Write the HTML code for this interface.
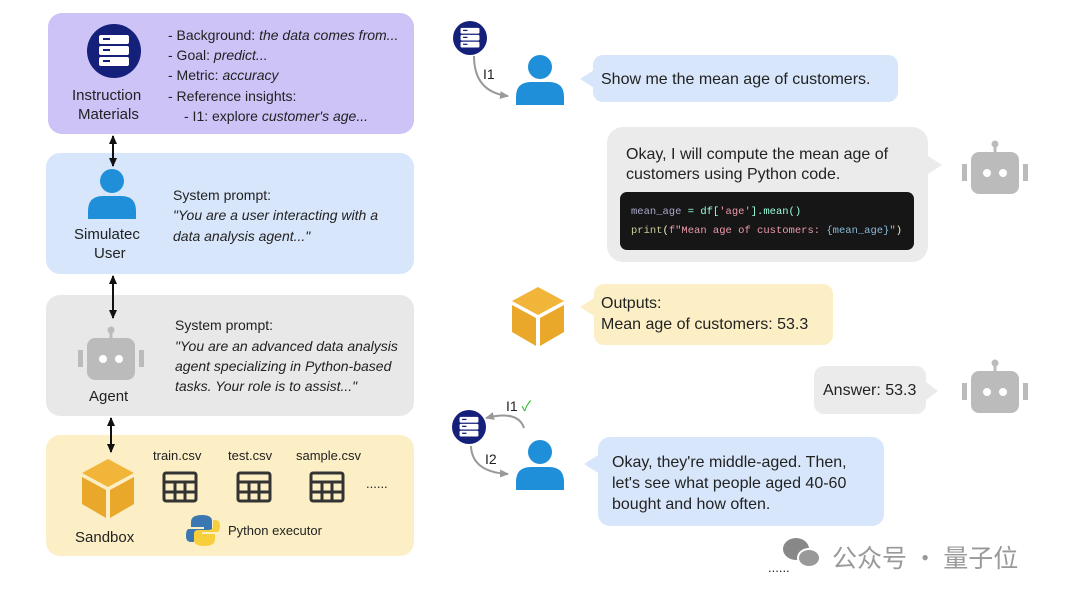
<!DOCTYPE html>
<html><head><meta charset="utf-8"><style>
body{margin:0;width:1080px;height:602px;background:#fff;position:relative;overflow:hidden;font-family:"Comic Sans MS","Liberation Sans","Noto Sans CJK SC",sans-serif;color:#222}
.a{position:absolute}
.box{position:absolute;border-radius:14px}
.t{position:absolute;font-size:14px;white-space:nowrap;line-height:20px}
i{font-style:italic}
.b{position:absolute;border-radius:10px}
.tail{position:absolute;width:0;height:0;border-top:9px solid transparent;border-bottom:9px solid transparent}
</style></head><body>
<div class="box" style="left:48px;top:13px;width:366px;height:121px;background:#cdc3f7"></div>
<div class="box" style="left:46px;top:153px;width:368px;height:121px;background:#d8e6fb"></div>
<div class="box" style="left:46px;top:295px;width:368px;height:121px;background:#e8e8e8"></div>
<div class="box" style="left:46px;top:435px;width:368px;height:121px;background:#fcefc6"></div>

<svg class="a" style="left:0;top:0" width="1080" height="602">
<defs>
<marker id="ah" markerUnits="userSpaceOnUse" markerWidth="10" markerHeight="10" refX="8" refY="4" orient="auto-start-reverse"><path d="M0,0 L9,4 L0,8 z" fill="#111"/></marker>
<marker id="gh" markerUnits="userSpaceOnUse" markerWidth="10" markerHeight="10" refX="8" refY="4" orient="auto"><path d="M0,0 L9,4 L0,8 z" fill="#999"/></marker>
<g id="inst"><circle r="27" fill="#14207a"/><rect x="-15" y="-16" width="30" height="9" rx="2" fill="#fff"/><rect x="-15" y="-5" width="30" height="9" rx="2" fill="#fff"/><rect x="-15" y="6" width="30" height="9" rx="2" fill="#fff"/><rect x="-11" y="-13" width="7" height="2" fill="#14207a"/><rect x="-11" y="-2" width="7" height="2" fill="#14207a"/><rect x="-11" y="9" width="7" height="2" fill="#14207a"/></g>
<g id="user"><circle cx="0" cy="-13" r="12" fill="#1e8fd8"/><path d="M-24,25 L-24,17 Q-24,2 -9,2 L9,2 Q24,2 24,17 L24,25 z" fill="#1e8fd8"/></g>
<g id="bot"><circle cx="0" cy="-27" r="3.5" fill="#bbb"/><rect x="-1.5" y="-26" width="3" height="8" fill="#bbb"/><rect x="-24" y="-19" width="48" height="42" rx="8" fill="#bbb"/><rect x="-33" y="-7" width="5" height="17" fill="#bbb"/><rect x="28" y="-7" width="5" height="17" fill="#bbb"/><circle cx="-8" cy="2" r="4" fill="#fff"/><circle cx="8" cy="2" r="4" fill="#fff"/></g>
<g id="cube"><path d="M0,-29 L26,-15 L0,-1 L-26,-15 z" fill="#f1b53a"/><path d="M-26,-11 L-2,2 L-2,30 L-26,16 z" fill="#e9a82a"/><path d="M26,-11 L2,2 L2,30 L26,16 z" fill="#e9a82a"/></g>
<g id="tbl" fill="none" stroke="#333" stroke-width="3"><rect x="-16" y="-14" width="32" height="28" rx="2"/><line x1="-16" y1="-5" x2="16" y2="-5"/><line x1="-16" y1="5" x2="16" y2="5"/><line x1="-5" y1="-5" x2="-5" y2="14"/><line x1="5" y1="-5" x2="5" y2="14"/></g>
</defs>
<line x1="113" y1="136" x2="113" y2="166" stroke="#111" stroke-width="2" marker-end="url(#ah)" marker-start="url(#ah)"/>
<line x1="113" y1="276" x2="113" y2="318" stroke="#111" stroke-width="2" marker-end="url(#ah)" marker-start="url(#ah)"/>
<line x1="111" y1="372" x2="111" y2="452" stroke="#111" stroke-width="2" marker-end="url(#ah)" marker-start="url(#ah)" opacity="0"/>
<line x1="111" y1="418" x2="111" y2="452" stroke="#111" stroke-width="2" marker-end="url(#ah)" marker-start="url(#ah)"/>
<use href="#inst" x="114" y="51"/>
<use href="#user" x="112" y="194"/>
<use href="#bot" x="111" y="357"/>
<use href="#cube" x="108" y="488"/>
<use href="#tbl" x="180" y="487"/><use href="#tbl" x="254" y="487"/><use href="#tbl" x="327" y="487"/>
<g transform="translate(203,530)"><path d="M-1,-15 Q-12,-15 -12,-8 L-12,-3 L1,-3 L1,-1 L-14,-1 Q-17,-1 -17,6 Q-17,12 -12,12 L-9,12 L-9,6 Q-9,2 -4,2 L6,2 Q9,2 9,-1 L9,-9 Q9,-15 -1,-15z" fill="#3b77b0"/><path d="M1,16 Q12,16 12,9 L12,4 L-1,4 L-1,2 L14,2 Q17,2 17,-4 Q17,-10 12,-10 L10,-10 L10,-4 Q10,0 5,0 L-5,0 Q-9,0 -9,4 L-9,10 Q-9,16 1,16z" fill="#f7cf3d"/></g>

<use href="#inst" x="0" y="0" transform="translate(470,38) scale(0.63)"/>
<path d="M474,56 Q474,92 508,96" fill="none" stroke="#999" stroke-width="2" marker-end="url(#gh)"/>
<use href="#user" x="540" y="80"/>
<use href="#bot" x="995" y="171"/>
<use href="#cube" x="538" y="316"/>
<use href="#bot" x="995" y="390"/>
<use href="#inst" x="0" y="0" transform="translate(469,427) scale(0.63)"/>
<path d="M524,428 Q518,410 486,418" fill="none" stroke="#999" stroke-width="2" marker-end="url(#gh)"/>
<path d="M471,446 Q472,472 508,474" fill="none" stroke="#999" stroke-width="2" marker-end="url(#gh)"/>
<use href="#user" x="540" y="465"/>
<g transform="translate(800,553)"><ellipse cx="-4" cy="-4" rx="13" ry="11" fill="#888"/><ellipse cx="9" cy="5" rx="11" ry="9" fill="#999" stroke="#fff" stroke-width="2"/></g>
</svg>

<div class="t" style="left:168px;top:25px">- Background: <i>the data comes from...</i></div>
<div class="t" style="left:168px;top:45px">- Goal: <i>predict...</i></div>
<div class="t" style="left:168px;top:65px">- Metric: <i>accuracy</i></div>
<div class="t" style="left:168px;top:86px">- Reference insights:</div>
<div class="t" style="left:184px;top:106px">- I1: explore <i>customer's age...</i></div>
<div class="t" style="left:72px;top:86px;font-size:15px">Instruction</div>
<div class="t" style="left:78px;top:105px;font-size:15px">Materials</div>
<div class="t" style="left:173px;top:185px">System prompt:</div>
<div class="t" style="left:173px;top:205px"><i>"You are a user interacting with a</i></div>
<div class="t" style="left:173px;top:226px"><i>data analysis agent..."</i></div>
<div class="t" style="left:74px;top:225px;font-size:15px">Simulatec</div>
<div class="t" style="left:94px;top:244px;font-size:15px">User</div>
<div class="t" style="left:175px;top:315px">System prompt:</div>
<div class="t" style="left:175px;top:336px"><i>"You are an advanced data analysis</i></div>
<div class="t" style="left:175px;top:356px"><i>agent specializing in Python-based</i></div>
<div class="t" style="left:175px;top:376px"><i>tasks. Your role is to assist..."</i></div>
<div class="t" style="left:89px;top:387px;font-size:15px">Agent</div>
<div class="t" style="left:153px;top:446px;font-size:13px">train.csv</div>
<div class="t" style="left:228px;top:446px;font-size:13px">test.csv</div>
<div class="t" style="left:296px;top:446px;font-size:13px">sample.csv</div>
<div class="t" style="left:366px;top:474px;font-size:13px">......</div>
<div class="t" style="left:228px;top:521px;font-size:13px">Python executor</div>
<div class="t" style="left:75px;top:528px;font-size:15px">Sandbox</div>

<div class="b" style="left:593px;top:55px;width:305px;height:47px;background:#d8e6fb"></div>
<div class="tail" style="left:580px;top:70px;border-right:14px solid #d8e6fb"></div>
<div class="t" style="left:601px;top:70px;font-size:16px">Show me the mean age of customers.</div>
<div class="t" style="left:483px;top:64px;font-size:14px">I1</div>

<div class="b" style="left:607px;top:127px;width:321px;height:135px;background:#ebebeb;border-radius:16px"></div>
<div class="tail" style="left:928px;top:156px;border-left:14px solid #ebebeb"></div>
<div class="t" style="left:626px;top:145px;font-size:16px">Okay, I will compute the mean age of</div>
<div class="t" style="left:626px;top:165px;font-size:16px">customers using Python code.</div>
<div class="b" style="left:620px;top:192px;width:294px;height:58px;background:#161616;border-radius:7px"></div>
<div class="t" style="left:631px;top:202px;font-size:10.5px;font-family:'Liberation Mono',monospace;color:#9fd"><span style="color:#aac">mean_age</span> = df[<span style="color:#e9a">'age'</span>].mean()</div>
<div class="t" style="left:631px;top:221px;font-size:10.5px;font-family:'Liberation Mono',monospace;color:#eec"><span style="color:#cc9">print</span>(<span style="color:#e9a">f"Mean age of customers: </span><span style="color:#8bd">{mean_age}</span><span style="color:#e9a">"</span>)</div>

<div class="b" style="left:594px;top:284px;width:239px;height:61px;background:#fcefc6"></div>
<div class="tail" style="left:580px;top:298px;border-right:14px solid #fcefc6"></div>
<div class="t" style="left:601px;top:294px;font-size:16px">Outputs:</div>
<div class="t" style="left:601px;top:315px;font-size:16px">Mean age of customers: 53.3</div>

<div class="b" style="left:814px;top:366px;width:112px;height:48px;background:#ebebeb"></div>
<div class="tail" style="left:926px;top:382px;border-left:12px solid #ebebeb"></div>
<div class="t" style="left:823px;top:381px;font-size:16px">Answer: 53.3</div>

<div class="t" style="left:506px;top:396px;font-size:14px">I1 <span style="color:#2b2">✓</span></div>
<div class="t" style="left:485px;top:449px;font-size:14px">I2</div>
<div class="b" style="left:598px;top:437px;width:286px;height:89px;background:#d8e6fb;border-radius:12px"></div>
<div class="tail" style="left:584px;top:455px;border-right:14px solid #d8e6fb"></div>
<div class="t" style="left:612px;top:452px;font-size:16px;line-height:21px">Okay, they're middle-aged. Then,<br>let's see what people aged 40-60<br>bought and how often.</div>

<div class="t" style="left:768px;top:558px;font-size:13px">......</div>
<div class="t" style="left:832px;top:540px;font-size:25px;color:#999;font-family:'Noto Sans CJK SC',sans-serif;line-height:34px">公众号 · 量子位</div>
</body></html>
